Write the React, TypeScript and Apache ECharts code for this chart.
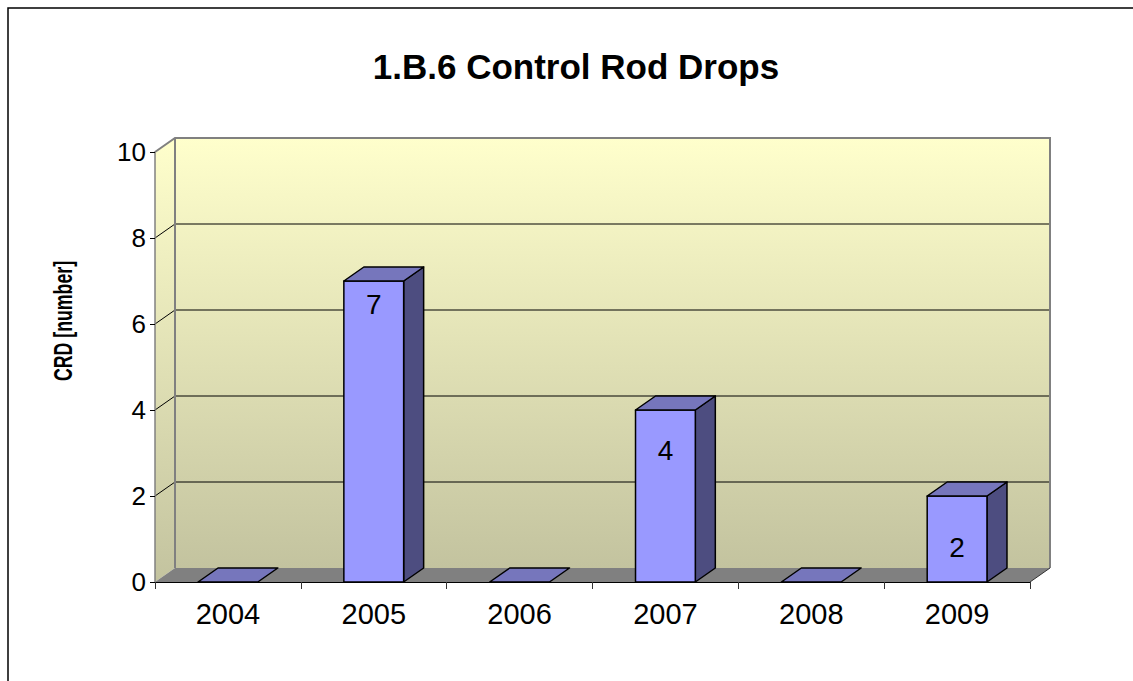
import React, { useEffect, useRef } from "react";
import * as echarts from "echarts";

const YEARS = ["2004", "2005", "2006", "2007", "2008", "2009"];
const CRD = [0, 7, 0, 4, 0, 2];
const Y_MIN = 0;
const Y_MAX = 10;
const Y_INTERVAL = 2;
const TITLE = "1.B.6 Control Rod Drops";
const Y_NAME = "CRD [number]";

const FONT = "Liberation Sans";
const DX = 20;
const DY = -14;

const wallFill = () =>
  new echarts.graphic.LinearGradient(0, 0, 0, 1, [
    { offset: 0, color: "#FFFFCC" },
    { offset: 1, color: "#C3C39F" },
  ]);

export default function App() {
  const ref = useRef<HTMLDivElement>(null);
  useEffect(() => {
    if (!ref.current) return;
    const chart = echarts.init(ref.current, null, { renderer: "svg" });
    const gridLevels: number[] = [];
    for (let v = Y_MIN + Y_INTERVAL; v <= Y_MAX; v += Y_INTERVAL) gridLevels.push(v);
    const allLevels: number[] = [];
    for (let v = Y_MIN; v <= Y_MAX; v += Y_INTERVAL) allLevels.push(v);

    chart.setOption({
      animation: false,
      backgroundColor: "#fff",
      title: {
        text: TITLE,
        left: 571,
        textAlign: "center",
        top: 44,
        textStyle: { fontFamily: FONT, fontSize: 35, fontWeight: "bold", color: "#000" },
      },
      grid: { left: 155, top: 152, width: 875, height: 430 },
      xAxis: {
        type: "category",
        data: YEARS,
        z: 5,
        axisLine: { show: true, lineStyle: { color: "#000", width: 1 } },
        axisTick: { show: true, length: 7, lineStyle: { color: "#333" } },
        axisLabel: { fontFamily: FONT, fontSize: 29, color: "#000", margin: 17 },
        splitLine: { show: false },
      },
      yAxis: {
        type: "value",
        min: Y_MIN,
        max: Y_MAX,
        interval: Y_INTERVAL,
        z: 5,
        axisLine: { show: true, lineStyle: { color: "#808080", width: 1.5 } },
        axisTick: { show: true, length: 5, lineStyle: { color: "#000" } },
        axisLabel: { fontFamily: FONT, fontSize: 26, color: "#000", margin: 9 },
        splitLine: { show: false },
      },
      graphic: [
        {
          type: "rect",
          shape: { x: 8, y: 8, width: 1300, height: 900 },
          style: { fill: "none", stroke: "#000", lineWidth: 1.5 },
          z: 100,
        },
        {
          type: "text",
          x: 63,
          y: 321,
          rotation: Math.PI / 2,
          scaleX: 0.71,
          style: {
            text: Y_NAME,
            fontFamily: FONT,
            fontSize: 25,
            fontWeight: "bold",
            fill: "#000",
            align: "center",
            verticalAlign: "middle",
          },
        },
      ],
      series: [
        {
          type: "custom",
          z: 1,
          silent: true,
          data: [[0, 0]],
          renderItem: (params: any, api: any) => {
            const cs = params.coordSys;
            const L = cs.x;
            const R = cs.x + cs.width;
            const y0 = api.coord([0, Y_MIN])[1];
            const yT = api.coord([0, Y_MAX])[1];
            const children: any[] = [];
            children.push({
              type: "polygon",
              shape: { points: [[L + DX, yT + DY], [R + DX, yT + DY], [R + DX, y0 + DY], [L + DX, y0 + DY]] },
              style: { fill: wallFill() },
            });
            children.push({
              type: "polygon",
              shape: { points: [[L, yT], [L + DX, yT + DY], [L + DX, y0 + DY], [L, y0]] },
              style: { fill: wallFill() },
            });
            children.push({
              type: "polygon",
              shape: { points: [[L, y0], [R, y0], [R + DX, y0 + DY], [L + DX, y0 + DY]] },
              style: { fill: "#808080" },
            });
            gridLevels.forEach((v) => {
              const y = api.coord([0, v])[1];
              if (v < Y_MAX) {
                children.push({
                  type: "line",
                  shape: { x1: L + DX, y1: y + DY, x2: R + DX, y2: y + DY },
                  style: { stroke: "#000", lineWidth: 1 },
                });
              }
            });
            allLevels.forEach((v) => {
              const y = api.coord([0, v])[1];
              if (v > Y_MIN && v < Y_MAX) {
                children.push({
                  type: "line",
                  shape: { x1: L, y1: y, x2: L + DX, y2: y + DY },
                  style: { stroke: "#000", lineWidth: 1 },
                });
              }
            });
            children.push({
              type: "polyline",
              shape: { points: [[L, yT], [L + DX, yT + DY], [R + DX, yT + DY], [R + DX, y0 + DY]] },
              style: { stroke: "#808080", lineWidth: 2, fill: "none" },
            });
            children.push({
              type: "line",
              shape: { x1: L + DX, y1: yT + DY, x2: L + DX, y2: y0 + DY },
              style: { stroke: "#808080", lineWidth: 2 },
            });
            children.push({
              type: "line",
              shape: { x1: R, y1: y0, x2: R + DX, y2: y0 + DY },
              style: { stroke: "#333", lineWidth: 1 },
            });
            return { type: "group", children };
          },
        },
        {
          type: "custom",
          z: 3,
          silent: true,
          data: YEARS.map((_, i) => [i, CRD[i]]),
          renderItem: (params: any, api: any) => {
            const idx = api.value(0);
            const v = api.value(1);
            const cx = api.coord([idx, 0])[0];
            const y0 = api.coord([idx, 0])[1];
            const yv = api.coord([idx, v])[1];
            const bw = api.size([1, 0])[0] * 0.41;
            const xl = cx - bw / 2;
            const xr = cx + bw / 2;
            const stroke = { stroke: "#000", lineWidth: 1.5, lineJoin: "round" };
            const children: any[] = [];
            if (v > 0) {
              children.push({
                type: "polygon",
                shape: { points: [[xr, yv], [xr + DX, yv + DY], [xr + DX, y0 + DY], [xr, y0]] },
                style: { fill: "#4D4D80", ...stroke },
              });
              children.push({
                type: "rect",
                shape: { x: xl, y: yv, width: bw, height: y0 - yv },
                style: { fill: "#9999FF", ...stroke },
              });
            }
            children.push({
              type: "polygon",
              shape: { points: [[xl, yv], [xr, yv], [xr + DX, yv + DY], [xl + DX, yv + DY]] },
              style: { fill: "#7676BC", ...stroke },
            });
            if (v > 0) {
              const ly = api.coord([idx, 1.13 * v - 1.46])[1];
              children.push({
                type: "text",
                x: cx,
                y: ly,
                style: {
                  text: String(v),
                  fontFamily: FONT,
                  fontSize: 28,
                  fill: "#000",
                  align: "center",
                  verticalAlign: "middle",
                },
              });
            }
            return { type: "group", children };
          },
        },
      ],
    });
    return () => chart.dispose();
  }, []);
  return (
    <div
      ref={ref}
      style={{ position: "fixed", left: 0, top: 0, width: 1133, height: 681 }}
    />
  );
}
